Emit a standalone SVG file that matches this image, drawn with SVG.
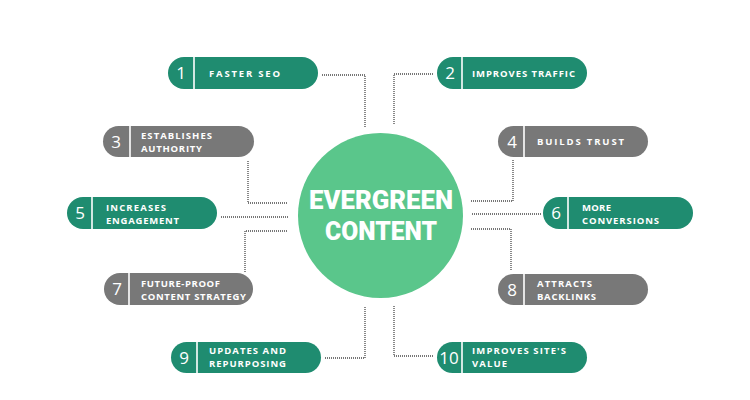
<svg xmlns="http://www.w3.org/2000/svg" width="750" height="400" viewBox="0 0 750 400">
<style>
.teal{fill:#1f8c70}
.grey{fill:#787878}
.div{stroke:#ffffff;stroke-width:1.6}
.num{font-family:"Open Sans","Liberation Sans",sans-serif;font-size:17px;font-weight:400;fill:#ffffff;text-anchor:middle}
.lbl{font-family:"Open Sans","Liberation Sans",sans-serif;font-size:9.5px;font-weight:700;fill:#ffffff;letter-spacing:1px}
.con{fill:none;stroke:#4a4a4a;stroke-width:1.3;stroke-dasharray:1 1}
.title{font-family:"Roboto","Liberation Sans",sans-serif;font-size:25px;font-weight:900;fill:#ffffff;text-anchor:middle}
</style>
<rect width="750" height="400" fill="#ffffff"/>
<g id="connectors">
<polyline class="con" points="322,75 365,75 365,127"/>
<polyline class="con" points="433,74 394,74 394,125"/>
<polyline class="con" points="248,161 248,203 288,203"/>
<polyline class="con" points="513,160 513,201 471,201"/>
<polyline class="con" points="221,217 288,217"/>
<polyline class="con" points="472,214 541,214"/>
<polyline class="con" points="245,272 245,231 288,231"/>
<polyline class="con" points="471,229 511,229 511,270"/>
<polyline class="con" points="325,358 365,358 365,307"/>
<polyline class="con" points="433,356 394,356 394,305"/>
</g>
<g id="center">
<circle cx="380.5" cy="215.5" r="82.5" fill="#5ac68b"/>
<text class="title" x="381" y="209" textLength="144" lengthAdjust="spacingAndGlyphs">EVERGREEN</text>
<text class="title" x="381" y="240" textLength="112" lengthAdjust="spacingAndGlyphs">CONTENT</text>
</g>
<g id="node1">
<rect class="teal" x="168" y="57" width="150" height="32" rx="16"/>
<line class="div" x1="194" y1="57" x2="194" y2="89"/>
<text class="num" x="181" y="79">1</text>
<text class="lbl" x="209" y="77" textLength="72" lengthAdjust="spacing">FASTER SEO</text>
</g>
<g id="node2">
<rect class="teal" x="437" y="57" width="150" height="32" rx="16"/>
<line class="div" x1="462" y1="57" x2="462" y2="89"/>
<text class="num" x="450" y="79">2</text>
<text class="lbl" x="472" y="77" textLength="104" lengthAdjust="spacing">IMPROVES TRAFFIC</text>
</g>
<g id="node3">
<rect class="grey" x="103" y="126" width="151" height="31" rx="15.5"/>
<line class="div" x1="130" y1="126" x2="130" y2="157"/>
<text class="num" x="116" y="147.5">3</text>
<text class="lbl" x="141" y="139" textLength="72" lengthAdjust="spacing">ESTABLISHES</text>
<text class="lbl" x="141" y="152" textLength="62" lengthAdjust="spacing">AUTHORITY</text>
</g>
<g id="node4">
<rect class="grey" x="498" y="126" width="150" height="31" rx="15.5"/>
<line class="div" x1="524" y1="126" x2="524" y2="157"/>
<text class="num" x="512" y="147.5">4</text>
<text class="lbl" x="537" y="145" textLength="88" lengthAdjust="spacing">BUILDS TRUST</text>
</g>
<g id="node5">
<rect class="teal" x="67" y="197" width="150" height="32" rx="16"/>
<line class="div" x1="92" y1="197" x2="92" y2="229"/>
<text class="num" x="80" y="219">5</text>
<text class="lbl" x="106" y="210.5" textLength="61" lengthAdjust="spacing">INCREASES</text>
<text class="lbl" x="106" y="223.5" textLength="74" lengthAdjust="spacing">ENGAGEMENT</text>
</g>
<g id="node6">
<rect class="teal" x="543" y="197" width="150" height="32" rx="16"/>
<line class="div" x1="568" y1="197" x2="568" y2="229"/>
<text class="num" x="556" y="219">6</text>
<text class="lbl" x="582" y="210.5" textLength="30" lengthAdjust="spacing">MORE</text>
<text class="lbl" x="582" y="223.5" textLength="78" lengthAdjust="spacing">CONVERSIONS</text>
</g>
<g id="node7">
<rect class="grey" x="104" y="273" width="149" height="32" rx="16"/>
<line class="div" x1="129" y1="273" x2="129" y2="305"/>
<text class="num" x="117" y="295">7</text>
<text class="lbl" x="141" y="286.5" textLength="80" lengthAdjust="spacing">FUTURE-PROOF</text>
<text class="lbl" x="141" y="299.5" textLength="106" lengthAdjust="spacing">CONTENT STRATEGY</text>
</g>
<g id="node8">
<rect class="grey" x="498" y="274" width="150" height="31" rx="15.5"/>
<line class="div" x1="524" y1="274" x2="524" y2="305"/>
<text class="num" x="512" y="295.5">8</text>
<text class="lbl" x="537" y="286.5" textLength="56" lengthAdjust="spacing">ATTRACTS</text>
<text class="lbl" x="537" y="299.5" textLength="60" lengthAdjust="spacing">BACKLINKS</text>
</g>
<g id="node9">
<rect class="teal" x="171" y="342" width="150" height="31" rx="15.5"/>
<line class="div" x1="197" y1="342" x2="197" y2="373"/>
<text class="num" x="184" y="363.5">9</text>
<text class="lbl" x="209" y="353.5" textLength="78" lengthAdjust="spacing">UPDATES AND</text>
<text class="lbl" x="209" y="366.5" textLength="78" lengthAdjust="spacing">REPURPOSING</text>
</g>
<g id="node10">
<rect class="teal" x="437" y="342" width="150" height="31" rx="15.5"/>
<line class="div" x1="462" y1="342" x2="462" y2="373"/>
<text class="num" x="449" y="363.5">10</text>
<text class="lbl" x="472" y="353.5" textLength="95" lengthAdjust="spacing">IMPROVES SITE'S</text>
<text class="lbl" x="472" y="366.5" textLength="36" lengthAdjust="spacing">VALUE</text>
</g>
</svg>
